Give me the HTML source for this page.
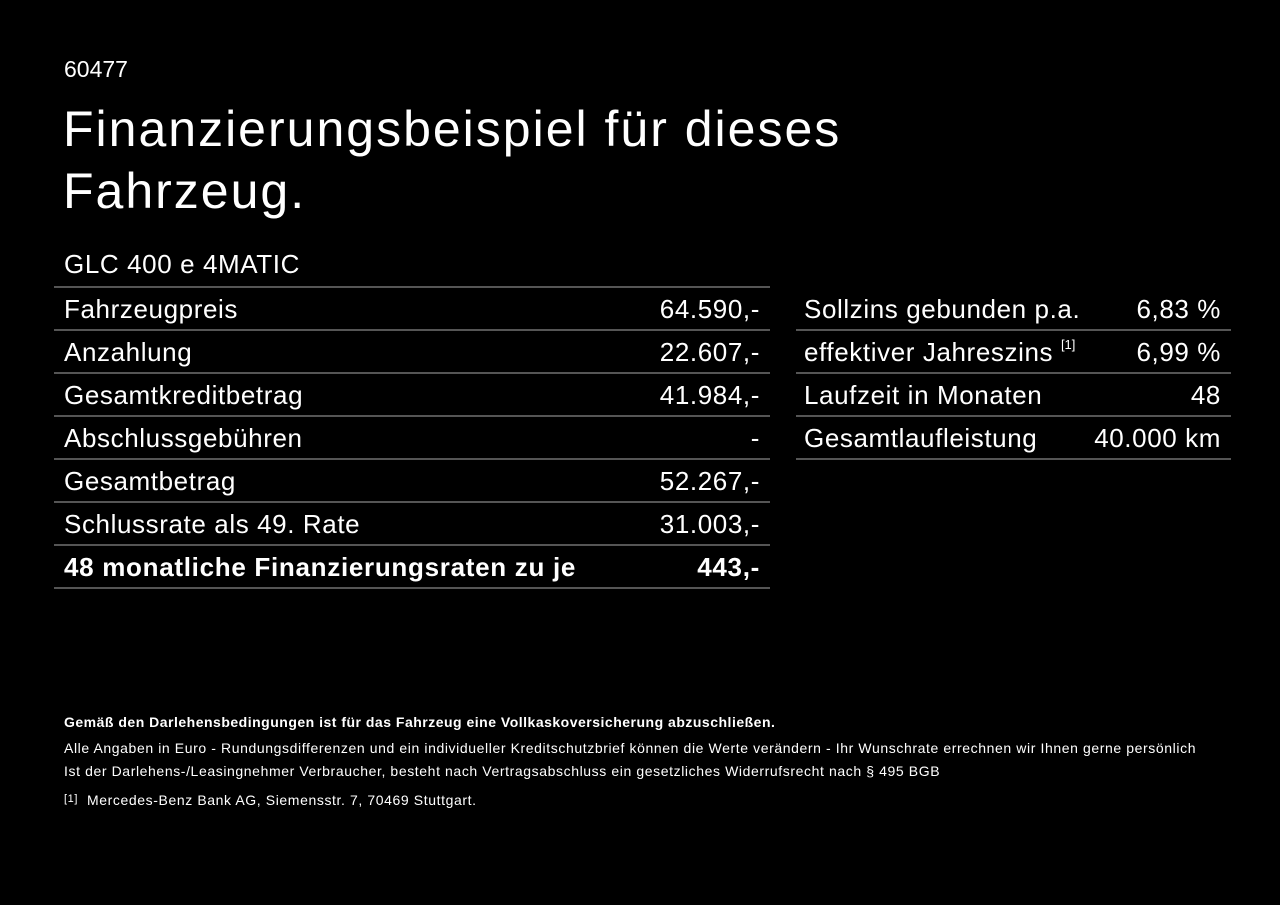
<!DOCTYPE html>
<html><head><meta charset="utf-8"><style>
body{margin:0;background:#000;width:1280px;height:905px;overflow:hidden;font-family:"Liberation Sans",Arial,sans-serif;color:#fff;position:relative}
.a{position:absolute;white-space:nowrap}
.row{position:absolute;height:43px;border-bottom:2px solid #555;box-sizing:border-box;font-size:26px;line-height:43px;letter-spacing:0.6px}
.row span{position:absolute}
.l{left:10px}.r{right:10px}
sup{font-size:13px;vertical-align:0;position:relative;top:-12px;letter-spacing:0}
.f{font-size:14px;letter-spacing:0.6px}
</style></head><body>
<div class="a" style="left:64px;top:56px;font-size:23px">60477</div>
<div class="a" style="left:63px;top:98px;font-size:50px;line-height:62px;letter-spacing:2px">Finanzierungsbeispiel für dieses<br>Fahrzeug.</div>
<div class="a" style="left:64px;top:249px;font-size:26px;letter-spacing:0.6px">GLC 400 e 4MATIC</div>
<div style="position:absolute;left:54px;top:286px;width:716px;border-top:2px solid #555"></div>
<div class="row" style="left:54px;top:288px;width:716px"><span class="l">Fahrzeugpreis</span><span class="r">64.590,-</span></div>
<div class="row" style="left:54px;top:331px;width:716px"><span class="l">Anzahlung</span><span class="r">22.607,-</span></div>
<div class="row" style="left:54px;top:374px;width:716px"><span class="l">Gesamtkreditbetrag</span><span class="r">41.984,-</span></div>
<div class="row" style="left:54px;top:417px;width:716px"><span class="l">Abschlussgebühren</span><span class="r">-</span></div>
<div class="row" style="left:54px;top:460px;width:716px"><span class="l">Gesamtbetrag</span><span class="r">52.267,-</span></div>
<div class="row" style="left:54px;top:503px;width:716px"><span class="l">Schlussrate als 49. Rate</span><span class="r">31.003,-</span></div>
<div class="row" style="left:54px;top:546px;width:716px;font-weight:bold;letter-spacing:0.7px"><span class="l">48 monatliche Finanzierungsraten zu je</span><span class="r">443,-</span></div>
<div class="row" style="left:796px;top:288px;width:435px"><span class="l" style="left:8px">Sollzins gebunden p.a.</span><span class="r">6,83 %</span></div>
<div class="row" style="left:796px;top:331px;width:435px"><span class="l" style="left:8px">effektiver Jahreszins <sup>[1]</sup></span><span class="r">6,99 %</span></div>
<div class="row" style="left:796px;top:374px;width:435px"><span class="l" style="left:8px">Laufzeit in Monaten</span><span class="r">48</span></div>
<div class="row" style="left:796px;top:417px;width:435px"><span class="l" style="left:8px">Gesamtlaufleistung</span><span class="r">40.000 km</span></div>
<div class="a f" style="left:64px;top:714px;font-weight:bold;letter-spacing:0.5px">Gemäß den Darlehensbedingungen ist für das Fahrzeug eine Vollkaskoversicherung abzuschließen.</div>
<div class="a f" style="left:64px;top:740px">Alle Angaben in Euro - Rundungsdifferenzen und ein individueller Kreditschutzbrief können die Werte verändern - Ihr Wunschrate errechnen wir Ihnen gerne persönlich</div>
<div class="a f" style="left:64px;top:763px">Ist der Darlehens-/Leasingnehmer Verbraucher, besteht nach Vertragsabschluss ein gesetzliches Widerrufsrecht nach § 495 BGB</div>
<div class="a f" style="left:64px;top:792px"><span style="font-size:11px;position:relative;top:-3px">[1]</span>&nbsp; Mercedes-Benz Bank AG, Siemensstr. 7, 70469 Stuttgart.</div>
</body></html>
